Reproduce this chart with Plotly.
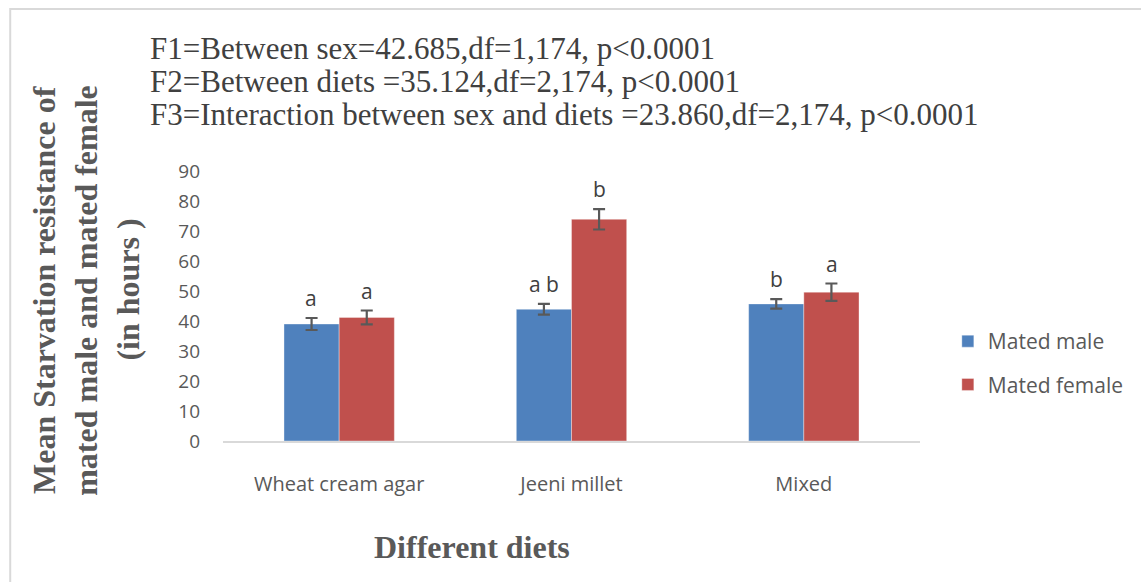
import plotly.graph_objects as go

# Diets and mean starvation resistance (hours) with standard errors
diets = ["Wheat cream agar", "Jeeni millet", "Mixed"]
male_means = [39.0, 43.9, 45.7]
male_err = [2.0, 1.8, 1.6]
female_means = [41.2, 73.9, 49.6]
female_err = [2.3, 3.4, 2.9]
male_letters = ["a", "a b", "b"]
female_letters = ["a", "b", "a"]
y_ticks = [0, 10, 20, 30, 40, 50, 60, 70, 80, 90]
stats_lines = [
    "F1=Between sex=42.685,df=1,174, p<0.0001",
    "F2=Between diets =35.124,df=2,174, p<0.0001",
    "F3=Interaction between sex and diets =23.860,df=2,174, p<0.0001",
]
y_title_lines = ["Mean Starvation resistance of", "mated male and mated female", "(in hours )"]

W, H = 1141, 582
L, R, T, B = 223, 217, 171, 141
PW, PH = W - L - R, H - T - B


def px_x(px):
    return (px - L) / PW


def px_y(py):
    return (H - B - py) / PH


BLUE = "#4F81BD"
RED = "#C0504D"
ERR = "#595959"
SERIF = "Liberation Serif, Times New Roman, serif"
SANS = "Open Sans, Calibri, sans-serif"

fig = go.Figure()
fig.add_bar(
    name="Mated male", x=diets, y=male_means, marker_color=BLUE,
    marker_line=dict(width=0.6, color="rgba(255,255,255,0.6)"),
    error_y=dict(type="data", array=male_err, color=ERR, thickness=2.2, width=6),
    legendgroup="m",
)
fig.add_bar(
    name="Mated female", x=diets, y=female_means, marker_color=RED,
    marker_line=dict(width=0.6, color="rgba(255,255,255,0.6)"),
    error_y=dict(type="data", array=female_err, color=ERR, thickness=2.2, width=6),
    legendgroup="f",
)

annotations = []
bar_half = 0.475 * PW / 3 / 4
for i, d in enumerate(diets):
    for means, errs, letters, sign in (
        (male_means, male_err, male_letters, -1),
        (female_means, female_err, female_letters, 1),
    ):
        annotations.append(dict(
            x=d, y=means[i] + errs[i], xref="x", yref="y", text=letters[i],
            showarrow=False, xshift=sign * bar_half, yshift=4, yanchor="bottom",
            font=dict(family=SANS, size=21, color="#404040"),
        ))

for k, line in enumerate(stats_lines):
    annotations.append(dict(
        x=px_x(148), y=px_y(49 + 33 * k), xref="paper", yref="paper",
        text=line, showarrow=False, xanchor="left", yanchor="middle",
        font=dict(family=SERIF, size=31, color="#404040"),
    ))

for k, line in enumerate(y_title_lines):
    annotations.append(dict(
        x=px_x(43 + 42 * k), y=px_y(290), xref="paper", yref="paper",
        text="<b>" + line + "</b>", showarrow=False, textangle=-90,
        xanchor="center", yanchor="middle",
        font=dict(family=SERIF, size=32, color="#595959"),
    ))

annotations.append(dict(
    x=px_x(473), y=px_y(547), xref="paper", yref="paper",
    text="<b>Different diets</b>", showarrow=False,
    xanchor="center", yanchor="middle",
    font=dict(family=SERIF, size=32, color="#595959"),
))

fig.update_layout(
    width=W, height=H,
    margin=dict(l=L, r=R, t=T, b=B, pad=0),
    paper_bgcolor="white", plot_bgcolor="white",
    barmode="group", bargap=0.525, bargroupgap=0,
    showlegend=True,
    legend=dict(
        x=px_x(952), y=px_y(321), xanchor="left", yanchor="top",
        font=dict(family=SANS, size=21, color="#595959"),
        tracegroupgap=13, itemwidth=30,
        bgcolor="rgba(0,0,0,0)",
    ),
    annotations=annotations,
    shapes=[dict(
        type="rect", xref="paper", yref="paper",
        x0=px_x(9), x1=px_x(W + 20), y0=px_y(H + 20), y1=px_y(9),
        line=dict(color="#d9d9d9", width=2), layer="below",
    )],
)
fig.update_xaxes(
    showline=True, linecolor="#d9d9d9", linewidth=2, showgrid=False,
    ticks="", ticklabelstandoff=24,
    tickfont=dict(family=SANS, size=20, color="#595959"),
)
fig.update_yaxes(
    range=[0, 90], tickvals=y_ticks, showgrid=False, showline=False,
    zeroline=False, ticks="", ticklabelstandoff=22,
    tickfont=dict(family=SANS, size=19, color="#595959"),
)

fig.write_html("out.html")
